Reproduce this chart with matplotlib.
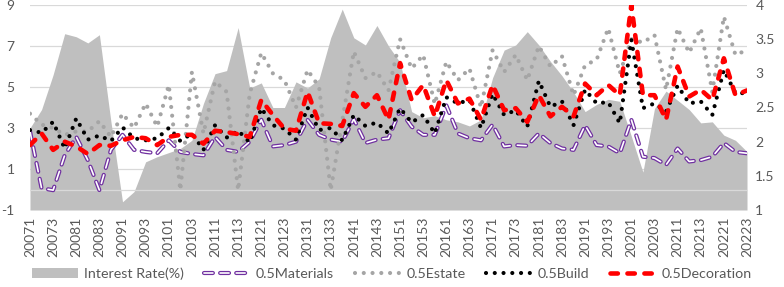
import numpy as np
import matplotlib
matplotlib.use("Agg")
import matplotlib.pyplot as plt
from matplotlib.patches import Patch
from matplotlib.lines import Line2D

plt.rcParams['font.family'] = ['Lato', 'DejaVu Sans']
plt.rcParams['lines.scale_dashes'] = False

# quarters 2007Q1 .. 2022Q3, written as 20071 ... 20223
quarters = [str(y) + str(q) for y in range(2007, 2023) for q in range(1, 5)][:63]

# left axis
interest_rate = [3.0, 3.9, 5.6, 7.6, 7.45, 7.15, 7.55, 3.3, -0.6, -0.1,
                 1.35, 1.6, 1.8, 2.0, 2.4, 4.2, 5.65, 5.8, 7.9, 4.95,
                 5.2, 4.0, 4.0, 5.25, 4.95, 5.4, 7.4, 8.8, 7.4, 7.05,
                 8.0, 7.0, 6.2, 3.8, 3.5, 3.6, 3.4, 3.3, 3.1, 3.4,
                 5.45, 6.8, 7.05, 7.7, 7.05, 6.25, 5.55, 4.75, 3.8, 4.15,
                 4.4, 4.3, 2.6, 0.85, 3.95, 4.8, 4.35, 3.9, 3.25, 3.3,
                 2.65, 2.4, 1.85]

# right axis
materials = [2.15, 1.32, 1.29, 1.8, 2.07, 1.73, 1.29, 1.88, 2.10, 1.88,
             1.85, 1.83, 2.02, 1.85, 1.82, 1.80, 2.07, 1.88, 1.85, 2.00,
             2.32, 1.93, 1.95, 2.00, 2.32, 2.10, 2.03, 2.00, 2.33, 1.98,
             2.03, 2.05, 2.46, 2.22, 2.10, 2.10, 2.53, 2.12, 2.05, 2.02,
             2.25, 1.93, 1.95, 1.94, 2.12, 1.98, 1.90, 1.88, 2.24, 1.95,
             1.93, 1.83, 2.32, 1.78, 1.76, 1.66, 1.90, 1.71, 1.73, 1.78,
             1.98, 1.85, 1.83]

estate = [2.41, 2.25, 2.2, 2.1, 2.15, 2.15, 2.30, 2.07, 2.41, 2.2,
          2.56, 2.22, 2.83, 1.29, 3.02, 2.12, 2.88, 2.73, 1.29, 2.7,
          3.30, 3.00, 2.90, 2.50, 3.05, 2.80, 1.29, 2.30, 3.32, 2.93,
          3.02, 2.75, 3.50, 3.07, 3.27, 2.55, 3.17, 2.90, 3.07, 2.50,
          3.34, 3.02, 3.27, 2.90, 3.40, 3.10, 3.25, 2.68, 3.12, 3.20,
          3.66, 3.00, 3.50, 3.45, 3.56, 2.76, 3.66, 3.30, 3.66, 2.73,
          3.83, 3.27, 3.34]

build = [2.17, 2.13, 2.29, 1.90, 2.34, 2.03, 2.09, 2.01, 2.21, 2.05,
         2.02, 2.05, 2.20, 2.01, 2.12, 1.88, 2.24, 2.06, 2.16, 1.99,
         2.49, 2.24, 2.19, 2.03, 2.50, 2.17, 2.20, 2.02, 2.39, 2.23,
         2.28, 2.12, 2.49, 2.28, 2.39, 2.12, 2.65, 2.56, 2.61, 2.20,
         2.70, 2.39, 2.46, 2.22, 2.89, 2.51, 2.59, 2.24, 2.76, 2.56,
         2.58, 2.27, 3.49, 2.49, 2.56, 2.44, 2.82, 2.56, 2.59, 2.39,
         3.05, 2.71, 2.71]

decoration = [1.95, 2.12, 1.88, 2.00, 1.93, 1.82, 1.95, 1.94, 2.02, 2.07,
              2.05, 1.95, 2.07, 2.10, 2.10, 1.97, 2.16, 2.14, 2.11, 2.07,
              2.61, 2.39, 2.19, 2.16, 2.73, 2.27, 2.26, 2.23, 2.71, 2.51,
              2.68, 2.32, 3.15, 2.61, 2.83, 2.37, 2.90, 2.56, 2.63, 2.32,
              2.83, 2.46, 2.49, 2.29, 2.68, 2.37, 2.51, 2.37, 2.85, 2.68,
              2.83, 2.68, 4.00, 2.68, 2.68, 2.32, 3.10, 2.66, 2.76, 2.61,
              3.22, 2.68, 2.75]

txt = '#595959'
grid = '#d9d9d9'
x = np.arange(len(quarters))

fig = plt.figure(figsize=(7.84, 2.87), dpi=100)
ax = fig.add_axes([30 / 784, 1 - 210 / 287, 717 / 784, 205 / 287])
ax2 = ax.twinx()

# area on the left axis
ax.fill_between(x, -1, interest_rate, color='#bfbfbf', lw=0, zorder=1)
ax.axhline(0, color=grid, lw=0.9, zorder=2)
ax.set_ylim(-1, 9)
ax.set_yticks([-1, 1, 3, 5, 7, 9])
ax.set_yticklabels(['-1', '1', '3', '5', '7', '9'])
ax.yaxis.grid(True, color=grid, lw=0.9)
ax.set_axisbelow(True)
ax.set_xlim(0, len(x) - 1)
ax.set_xticks(x[::2])
ax.set_xticklabels(quarters[::2], rotation=90)
ax.tick_params(axis='x', length=0, pad=5, labelsize=10, colors=txt)
ax.tick_params(axis='y', length=0, pad=11, labelsize=10, colors=txt)

# lines on the right axis
dots = (0, (0.01, 6.3))
mat_ls = (0, (6.4, 5.2))
dec_ls = (0, (5.3, 6.9))
ax2.plot(x, materials, color='#7030a0', lw=3.0, linestyle=mat_ls,
         dash_capstyle='round', dash_joinstyle='round')
ax2.plot(x, materials, color='white', lw=1.2, linestyle=mat_ls,
         dash_capstyle='round', dash_joinstyle='round')
ax2.plot(x, estate, color='#a5a5a5', lw=3.0, linestyle=dots, dash_capstyle='round')
ax2.plot(x, build, color='black', lw=3.0, linestyle=dots, dash_capstyle='round')
ax2.plot(x, decoration, color='#ff0000', lw=3.3, linestyle=dec_ls,
         dash_capstyle='round', dash_joinstyle='round')
ax2.set_ylim(1, 4)
ax2.set_yticks([1, 1.5, 2, 2.5, 3, 3.5, 4])
ax2.set_yticklabels(['1', '1.5', '2', '2.5', '3', '3.5', '4'])
ax2.tick_params(axis='y', length=0, pad=6, labelsize=10, colors=txt)

for a in (ax, ax2):
    for s in a.spines.values():
        s.set_visible(False)

h_rate = Patch(facecolor='#bfbfbf', edgecolor='none')
h_mat = (Line2D([], [], color='#7030a0', lw=3.0, linestyle=mat_ls, dash_capstyle='round'),
         Line2D([], [], color='white', lw=1.2, linestyle=mat_ls, dash_capstyle='round'))
h_est = Line2D([], [], color='#a5a5a5', lw=3.0, linestyle=dots, dash_capstyle='round')
h_bld = Line2D([], [], color='black', lw=3.0, linestyle=dots, dash_capstyle='round')
h_dec = Line2D([], [], color='#ff0000', lw=3.3, linestyle=dec_ls, dash_capstyle='round')
leg = fig.legend([h_rate, h_mat, h_est, h_bld, h_dec],
                 ['Interest Rate(%)', '0.5Materials', '0.5Estate', '0.5Build', '0.5Decoration'],
                 loc='center', bbox_to_anchor=(0.5, 0.045), ncol=5, frameon=False,
                 fontsize=10.3, handlelength=3.2, handletextpad=0.4, columnspacing=1.45,
                 labelcolor=txt)

fig.savefig('out.png', dpi=100)
